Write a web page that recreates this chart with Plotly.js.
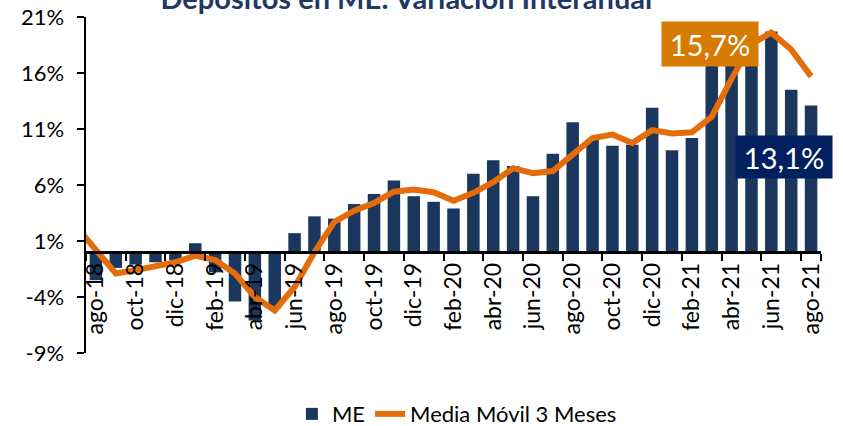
<!DOCTYPE html>
<html>
<head>
<meta charset="utf-8">
<script src="https://cdn.plot.ly/plotly-3.0.1.min.js"></script>
<style>
  html, body { margin: 0; padding: 0; background: #fff; }
  #chart { width: 843px; height: 426px; }
</style>
</head>
<body>
<div id="chart"></div>
<script>
// Months for the bars (year-on-year change of ME deposits)
const months = [
  'ago-18','sep-18','oct-18','nov-18','dic-18','ene-19','feb-19','mar-19','abr-19','may-19','jun-19','jul-19',
  'ago-19','sep-19','oct-19','nov-19','dic-19','ene-20','feb-20','mar-20','abr-20','may-20','jun-20','jul-20',
  'ago-20','sep-20','oct-20','nov-20','dic-20','ene-21','feb-21','mar-21','abr-21','may-21','jun-21','jul-21',
  'ago-21'
];
const meValues = [
  -2.5, -1.4, -1.1, -0.9, -0.7, 0.8, -1.8, -4.4, -6.1, -5.0, 1.7, 3.2,
  3.0, 4.3, 5.2, 6.4, 5.0, 4.5, 3.9, 7.0, 8.2, 7.7, 5.0, 8.8,
  11.6, 10.1, 9.5, 9.6, 12.9, 9.1, 10.2, 17.3, 19.3, 19.8, 19.7, 14.5,
  13.1
];
// 3-month moving average (line starts one month before the first bar, clipped at the axis)
const maMonths = ['jul-18'].concat(months);
const maValues = [
  2.3, 0.2, -1.9, -1.6, -1.25, -0.9, -0.3, -0.7, -1.9, -4.0, -5.2, -3.1, 0.0,
  2.7, 3.7, 4.4, 5.4, 5.6, 5.35, 4.6, 5.3, 6.25, 7.5, 7.05, 7.25,
  8.7, 10.2, 10.5, 9.75, 10.9, 10.6, 10.7, 12.1, 15.5, 18.6, 19.6, 18.1,
  15.7
];
const tickLabels = [
  'ago-18','oct-18','dic-18','feb-19','abr-19','jun-19','ago-19','oct-19','dic-19','feb-20',
  'abr-20','jun-20','ago-20','oct-20','dic-20','feb-21','abr-21','jun-21','ago-21'
];
const yTicks = [-9, -4, 1, 6, 11, 16, 21];
const seriesNames = ['ME', 'Media Móvil 3 Meses'];
const labelMA = '15,7%';
const labelME = '13,1%';

const yMin = yTicks[0], yMax = yTicks[yTicks.length - 1];
const FONT = 'Lato, "Open Sans", sans-serif';

const traces = [
  {
    type: 'bar', name: seriesNames[0], x: months, y: meValues,
    marker: { color: '#1B375E' }, hoverinfo: 'skip'
  },
  {
    type: 'scatter', mode: 'lines', name: seriesNames[1], x: maMonths, y: maValues,
    line: { color: '#E46C0A', width: 6 }, hoverinfo: 'skip'
  }
];

const layout = {
  width: 843, height: 426,
  margin: { l: 86, r: 22, t: 17, b: 73 },
  paper_bgcolor: '#ffffff', plot_bgcolor: '#ffffff',
  font: { family: FONT, color: '#000000', size: 22 },
  title: {
    text: 'Depósitos en ME: Variación Interanual',
    font: { family: FONT, size: 29, color: '#1F3864', weight: 'bold' },
    xref: 'container', yref: 'container', x: 0.482, xanchor: 'center',
    y: 0.979, yanchor: 'bottom', pad: { t: 0, b: 0 }
  },
  bargap: 0.37,
  showlegend: true,
  legend: {
    orientation: 'h', xref: 'container', yref: 'container',
    x: 0.542, xanchor: 'center', y: 0.028, yanchor: 'middle',
    font: { family: FONT, size: 22, color: '#000' },
    traceorder: 'normal', itemwidth: 30
  },
  xaxis: {
    type: 'category', categoryorder: 'array', categoryarray: maMonths,
    range: [0.5, maMonths.length - 0.5],
    tickmode: 'array', tickvals: tickLabels, ticktext: tickLabels,
    tickson: 'boundaries',
    ticks: 'outside', ticklen: 7, tickwidth: 2, tickcolor: '#000',
    tickangle: -90, tickfont: { family: FONT, size: 23, color: '#000' },
    showline: true, linecolor: '#000', linewidth: 2.5,
    showgrid: false, zeroline: false,
    anchor: 'free', position: (0 - yMin) / (yMax - yMin)
  },
  yaxis: {
    range: [yMin, yMax], tickmode: 'array', tickvals: yTicks,
    ticktext: yTicks.map(v => v + '%'),
    ticks: 'outside', ticklen: 7, tickwidth: 2, tickcolor: '#000',
    tickfont: { family: FONT, size: 22, color: '#000' },
    ticklabelstandoff: 8,
    showline: true, linecolor: '#000', linewidth: 2.5,
    showgrid: false, zeroline: false
  },
  annotations: [
    {
      x: 31.9, y: 18.6, xref: 'x', yref: 'y', text: labelMA, showarrow: false,
      bgcolor: '#D67A00', font: { family: FONT, size: 29, color: '#ffffff' },
      width: 96, height: 44, borderpad: 0, xanchor: 'center', yanchor: 'middle'
    },
    {
      x: 35.65, y: 8.5, xref: 'x', yref: 'y', text: labelME, showarrow: false,
      bgcolor: '#002060', font: { family: FONT, size: 29, color: '#ffffff' },
      width: 96, height: 42, borderpad: 0, xanchor: 'center', yanchor: 'middle'
    }
  ]
};

Plotly.newPlot('chart', traces, layout, { displayModeBar: false, staticPlot: true });
</script>
</body>
</html>
